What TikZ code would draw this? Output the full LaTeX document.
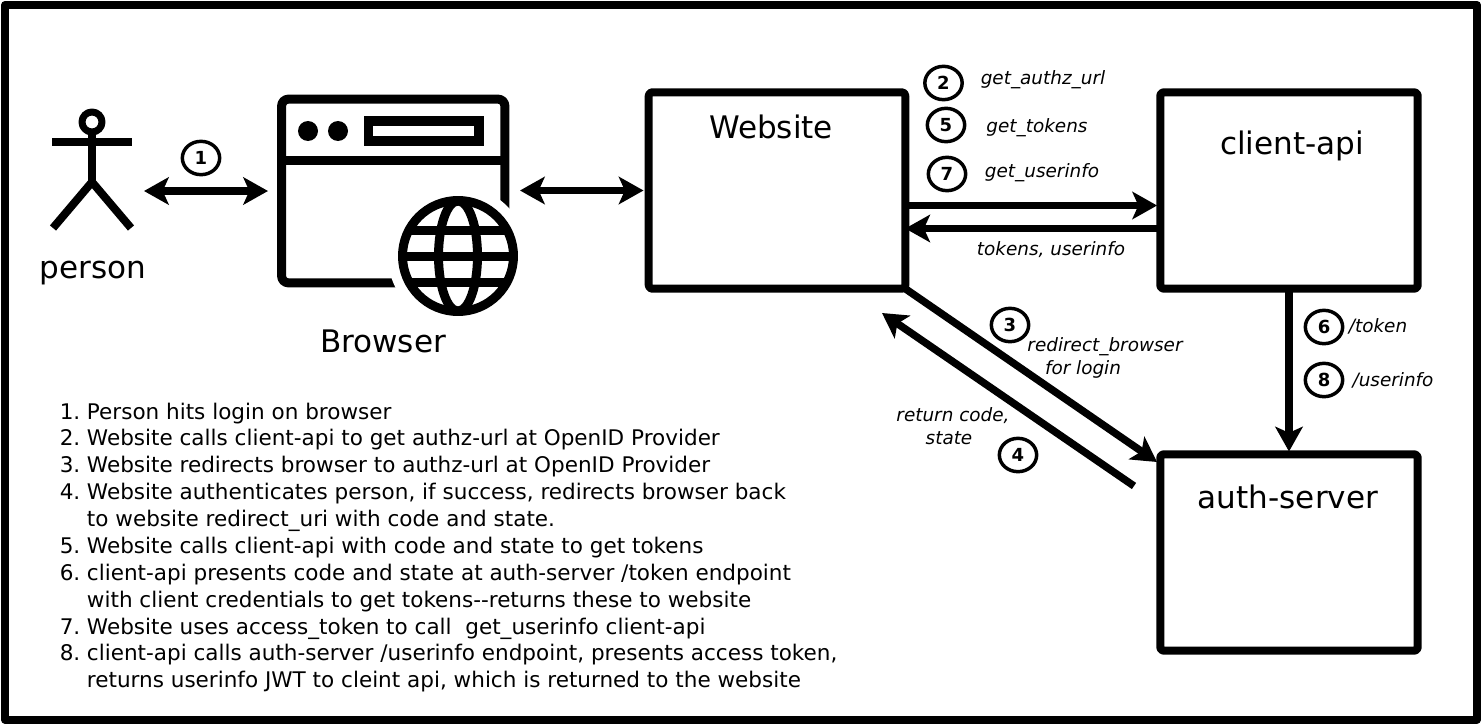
\documentclass[tikz,border=0pt]{standalone}
\usepackage{fontspec}
\setmainfont{DejaVu Sans}
\usetikzlibrary{arrows.meta}
\usetikzlibrary{shapes.geometric}

\begin{document}
\begin{tikzpicture}[line join=round,x=0.75pt,y=-0.75pt,
    >={Stealth[length=18.5pt,width=20.5pt,inset=4.5pt]},
    box/.style={draw, rectangle, rounded corners=2.5pt, line width=6pt, outer sep=0pt, minimum height=147.3pt},
    op/.style={ellipse, draw, line width=2.6pt, minimum width=28pt, minimum height=25pt, inner sep=0pt, font=\fontsize{13.5}{13.5}\selectfont\bfseries},
    big/.style={font=\fontsize{23.3}{27}\selectfont},
    lbl/.style={font=\fontsize{13.8}{16}\selectfont\itshape},
    flow/.style={line width=5.6pt},
    icon/.style={line width=6.75pt, outer sep=0pt},
    stick/.style={line width=6pt}]
    \useasboundingbox (0,0) rectangle (1482,724);
    \fill[white] (0,0) rectangle (1482,724);
    \draw[line width=6pt] (5,5) rectangle (1477,719.5);

    % person
    \node[circle, draw, line width=5.25pt, outer sep=0pt, minimum size=15pt, inner sep=0pt] (head) at (92,122) {};
    \coordinate (hip) at (92,182);
    \draw[stick] (52,142) -- (132,142);
    \draw[stick] (head) -- (hip);
    \draw[stick] (53,228) -- (hip) -- (131,228);
    \node[big] (person) at (93,273) {person};

    % browser
    \node[draw, rectangle, rounded corners=5pt, icon, minimum width=167.4pt, minimum height=137.75pt] (window) at (393.25,191) {};
    \draw[icon] (window.west |- 0,160.5) -- (window.east |- 0,160.5);
    \fill (308,131) circle (10);
    \fill (338,131) circle (10);
    \draw[line width=7pt, line join=miter] (368.5,121) rectangle (479,141);
    \node[circle, fill=white, minimum size=105pt, inner sep=0pt] (halo) at (458,256) {};
    \node[circle, draw, icon, minimum size=83.25pt, inner sep=0pt] (globe) at (458,256) {};
    \begin{scope}
        \clip (458,256) circle (55);
        \draw[icon] (458,256) ellipse (19.5 and 55);
        \draw[icon] (400,230) -- (516,230);
        \draw[icon] (400,256) -- (516,256);
        \draw[icon] (400,282) -- (516,282);
    \end{scope}
    \node[big] (browser) at (383,341.5) {Browser};

    % servers
    \node[box, minimum width=192.4pt] (website) at (777,190.5) {};
    \node[box, minimum width=193.1pt] (client) at (1289,190.5) {};
    \node[box, minimum width=193.1pt] (auth) at (1289,552.5) {};
    \node[big] (websitetxt) at (771,127) {Website};
    \node[big] (clienttxt) at (1292,146) {client-api};
    \node[big] (authtxt) at (1288,497) {auth-server};

    % connectors
    \coordinate (personout) at (144,191);
    \coordinate (browserin) at (268,191);
    \coordinate (browserout) at (520,190.5);
    \coordinate (authin) at (1157,462);
    \coordinate (authout) at (1134,486);
    \coordinate (websitein) at (882,313);
    \draw[flow, <->] (personout) -- (browserin);
    \draw[flow, <->, shorten >=3.9pt] (browserout) -- (website.west);
    \draw[flow, ->, shorten >=2.4pt] ([yshift=-11.25pt]website.east) -- ([yshift=-11.25pt]client.west);
    \draw[flow, ->] ([yshift=-28.5pt]client.west) -- ([yshift=-28.5pt]website.east);
    \draw[flow, ->, shorten >=2.1pt] (client.south) -- (auth.north);
    \draw[flow, ->] (website.south east) -- (authin);
    \draw[flow, ->] (authout) -- (websitein);

    % steps
    \node[op] (1) at (201,158) {1};
    \node[op] (2) at (943.5,83) {2};
    \node[op] (3) at (1010,325) {3};
    \node[op] (4) at (1018,455) {4};
    \node[op] (5) at (946,125) {5};
    \node[op] (6) at (1324,327) {6};
    \node[op] (7) at (947,174) {7};
    \node[op] (8) at (1324,380) {8};

    \node[lbl] (authzurl) at (1043,80) {get\_authz\_url};
    \node[lbl] (tokens) at (1037,128) {get\_tokens};
    \node[lbl] (userinfo) at (1042,173) {get\_userinfo};
    \node[lbl] (back) at (1051,250) {tokens, userinfo};
    \node[lbl] (redirect) at (1105,347) {redirect\_browser};
    \node[lbl] (login) at (1083,369) {for login};
    \node[lbl] (code) at (953,416) {return code,};
    \node[lbl] (state) at (949,438) {state};
    \node[lbl] (tokenpath) at (1378,326) {/token};
    \node[lbl] (infopath) at (1393,380) {/userinfo};

    % steps in words
    \node[anchor=north west, inner sep=0pt, font=\fontsize{16.15}{20.15}\selectfont] (steps) at (59.5,400) {%
    \begin{tabular}{@{}l@{\hspace{5pt}}l@{}}
    1. & Person hits login on browser\\
    2. & Website calls client-api to get authz-url at OpenID Provider\\
    3. & Website redirects browser to authz-url at OpenID Provider\\
    4. & Website authenticates person, if success, redirects browser back\\
       & to website redirect\_uri with code and state.\\
    5. & Website calls client-api with code and state to get tokens\\
    6. & client-api presents code and state at auth-server /token endpoint\\
       & with client credentials to get tokens-{}-returns these to website\\
    7. & Website uses access\_token to call~ get\_userinfo client-api\\
    8. & client-api calls auth-server /userinfo endpoint, presents access token,\\
       & returns userinfo JWT to cleint api, which is returned to the website
    \end{tabular}};
\end{tikzpicture}
\end{document}
